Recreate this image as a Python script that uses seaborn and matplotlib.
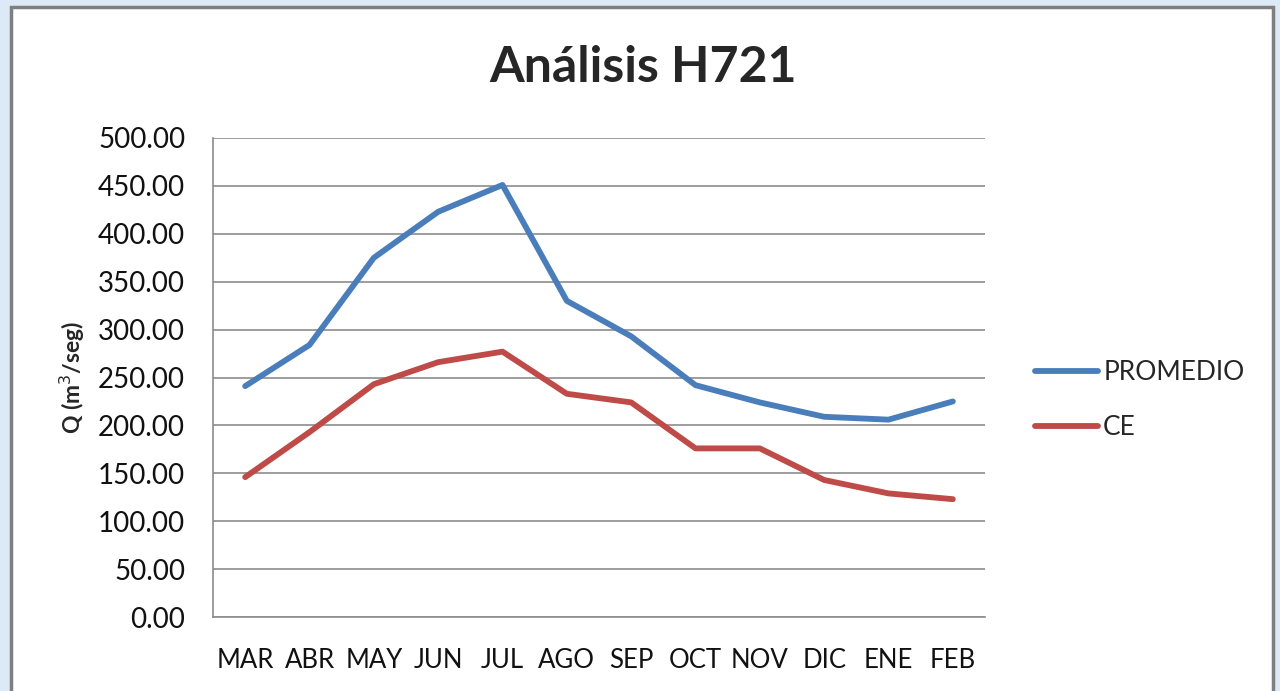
import numpy as np
import pandas as pd
import seaborn as sns
import matplotlib.pyplot as plt
from matplotlib.patches import Rectangle

months = ["MAR", "ABR", "MAY", "JUN", "JUL", "AGO", "SEP", "OCT", "NOV", "DIC", "ENE", "FEB"]
promedio = [241, 284, 375, 423, 451, 330, 293, 242, 224, 209, 206, 225]
ce = [146, 193, 243, 266, 277, 233, 224, 176, 176, 143, 129, 123]
series_names = ["PROMEDIO", "CE"]
colors = ["#4A7EBB", "#BE4B48"]
yticks = [0, 50, 100, 150, 200, 250, 300, 350, 400, 450, 500]

df = pd.DataFrame({
    "mes": list(range(len(months))) * 2,
    "Q": promedio + ce,
    "serie": [series_names[0]] * len(months) + [series_names[1]] * len(months),
})

sns.set_style("white")
plt.rcParams["font.family"] = ["Lato", "DejaVu Sans"]

fig = plt.figure(figsize=(12.8, 6.91), dpi=100)
fig.patch.set_facecolor("#DCEAF8")
# chart frame (white with grey border)
fig.patches.append(Rectangle((11 / 1280, -0.05), 1262 / 1280, 1 - 7 / 691 + 0.05,
                             transform=fig.transFigure, facecolor="white",
                             edgecolor="#7F7F7F", linewidth=2.5, zorder=-10))

ax = fig.add_axes([213 / 1280, 1 - 617 / 691, 772 / 1280, 479 / 691])
ax.set_facecolor("white")

sns.lineplot(ax=ax, data=df, x="mes", y="Q", hue="serie", palette=colors,
             linewidth=4.2, sort=False, legend=True, zorder=3)

ax.set_xlim(-0.5, len(months) - 0.5)
ax.set_ylim(0, 500)
ax.set_yticks(yticks)
ax.set_yticklabels([f"{v:.2f}" for v in yticks])
ax.yaxis.grid(True, color="#8C8C8C", linewidth=1.2)
ax.set_axisbelow(True)

ax.set_xticks(range(len(months)))
ax.set_xticklabels(months)
ax.set_xticks(np.arange(-0.5, len(months)), minor=True)
ax.tick_params(axis="x", which="major", length=0, pad=22, labelsize=18.5, colors="#111111")
ax.tick_params(axis="x", which="minor", length=7, width=1.2, color="#8C8C8C", direction="out")
ax.tick_params(axis="y", length=7, width=1.2, color="#8C8C8C", direction="out",
               labelsize=20, pad=13, labelcolor="#111111")

for s in ["top", "right"]:
    ax.spines[s].set_visible(False)
for s in ["left", "bottom"]:
    ax.spines[s].set_color("#8C8C8C")
    ax.spines[s].set_linewidth(1.2)

ax.set_xlabel("")
ax.set_ylabel("Q (m$^3$/seg)", fontsize=16.5, fontweight="bold", labelpad=8)
fig.text(643 / 1280, 1 - 68 / 691, "Análisis H721", fontsize=36, fontweight="bold",
         ha="center", va="center")

handles, labels = ax.get_legend_handles_labels()
ax.legend(handles=handles, labels=labels, loc="center left",
          bbox_to_anchor=(1024 / 1280, 1 - 400 / 691), bbox_transform=fig.transFigure,
          frameon=False, fontsize=19, handlelength=2.4, handletextpad=0.2,
          labelspacing=1.15, borderaxespad=0)

fig.savefig("out.png", dpi=100, facecolor=fig.get_facecolor())
